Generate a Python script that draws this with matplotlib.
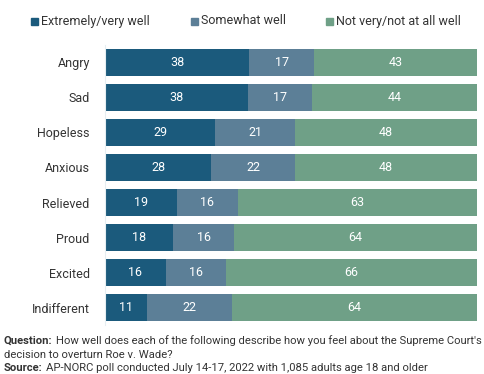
import numpy as np
import matplotlib.pyplot as plt
from matplotlib.patches import Rectangle

plt.rcParams['font.family'] = ['Roboto', 'DejaVu Sans']

# datos
emotions = ['Angry', 'Sad', 'Hopeless', 'Anxious', 'Relieved', 'Proud', 'Excited', 'Indifferent']
very_well = [38, 38, 29, 28, 19, 18, 16, 11]
somewhat_well = [17, 17, 21, 22, 16, 16, 16, 22]
not_well = [43, 44, 48, 48, 63, 64, 66, 64]
series_names = ['Extremely/very well', 'Somewhat well', 'Not very/not at all well']
colors = ['#1b5a7c', '#5c7f97', '#6fa087']

fig = plt.figure(figsize=(4.85, 3.74), dpi=100)
ax = fig.add_axes([105 / 485, 0.1297, 372 / 485, 0.7513])

data = np.array([very_well, somewhat_well, not_well], dtype=float)
totals = data.sum(axis=0)
shares = data / totals  # barras al 100%
y = np.arange(len(emotions))

left = np.zeros(len(emotions))
for vals, sh, c in zip(data, shares, colors):
    ax.barh(y, sh, left=left, height=0.77, color=c, edgecolor='none')
    for yi, v, l, s in zip(y, vals, left, sh):
        ax.text(l + s / 2, yi, f'{int(v)}', ha='center', va='center',
                color='white', fontsize=9)
    left += sh

ax.set_xlim(0, 1)
ax.set_ylim(len(emotions) - 0.5, -0.5)
ax.set_yticks(y)
ax.set_yticklabels(emotions, fontsize=9, color='#333333')
ax.tick_params(axis='y', length=0, pad=11)
ax.set_xticks([])
for sp in ['top', 'right', 'bottom']:
    ax.spines[sp].set_visible(False)
ax.spines['left'].set_color('#e6eef2')
ax.spines['left'].set_linewidth(0.8)

# leyenda manual
leg_x = [31, 191, 326]
for lx, name, c in zip(leg_x, series_names, colors):
    fig.patches.append(Rectangle((lx / 485, 1 - 25 / 374), 7 / 485, 7 / 374,
                                 transform=fig.transFigure, color=c))
    fig.text((lx + 10) / 485, 1 - 21 / 374, name, fontsize=9,
             color='#333333', va='center')

# notas al pie: etiqueta en negrita + texto normal a continuacion
renderer = fig.canvas.get_renderer()


def note(ypx, bold, rest, size=8.1):
    t = fig.text(4 / 485, 1 - ypx / 374, bold, fontsize=size, fontweight='bold',
                 color='#333333', va='center')
    bb = t.get_window_extent(renderer=renderer)
    fig.text((bb.x1 + 3) / 485, 1 - ypx / 374, rest, fontsize=size,
             color='#333333', va='center')


note(341, 'Question:',
     "How well does each of the following describe how you feel about the Supreme Court's")
fig.text(4 / 485, 1 - 355 / 374, 'decision to overturn Roe v. Wade?', fontsize=8.1,
         color='#333333', va='center')
note(368, 'Source:',
     'AP-NORC poll conducted July 14-17, 2022 with 1,085 adults age 18 and older')

fig.savefig('out.png', dpi=100)
